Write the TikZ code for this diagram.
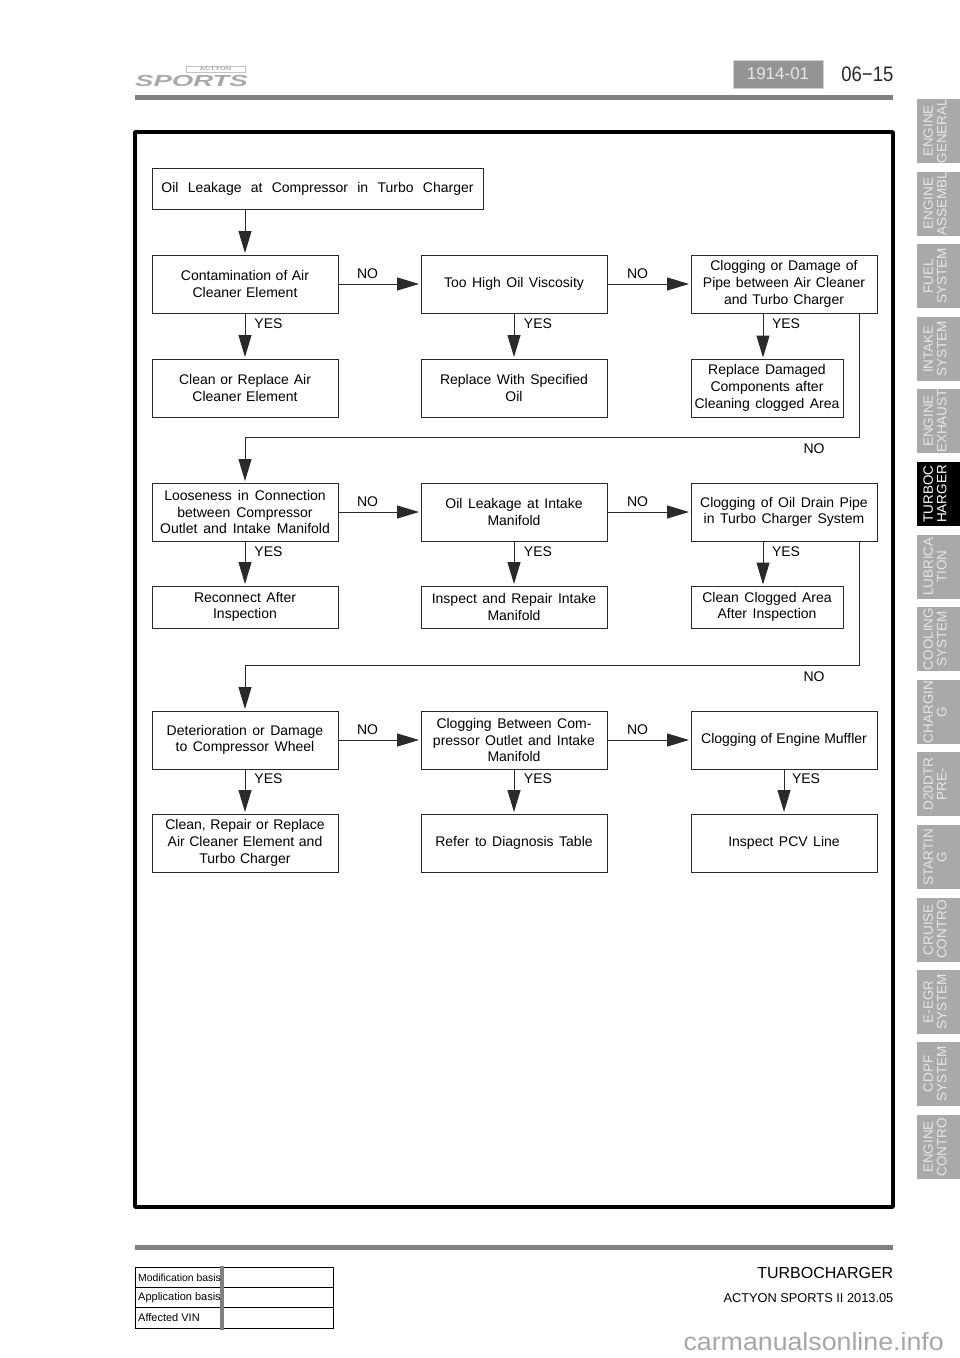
\documentclass[tikz,border=0pt]{standalone}
\usepackage{fontspec}
\setmainfont{Liberation Sans}
\usetikzlibrary{arrows.meta}

\definecolor{rulegray}{HTML}{808080}
\definecolor{tabgray}{HTML}{A9A9A9}
\definecolor{tabtext}{HTML}{E6E6E6}
\definecolor{linedark}{HTML}{2A2A2A}

\tikzset{
	wordgap/.style={execute at begin node={\spaceskip=#1}},
	chartbox/.style={draw=linedark, line width=0.95pt, inner sep=0pt, align=center, minimum width=186pt, minimum height=58pt, font=\fontsize{14}{16.7}\selectfont, wordgap=5.5pt},
	flow/.style={draw=linedark, line width=1pt, shorten >=1.5pt, -{Triangle[length=22pt,width=13pt,fill=linedark]}},
	answer/.style={inner sep=0pt, font=\fontsize{14}{16}\selectfont},
	tabbox/.style={fill=tabgray, inner sep=0pt, rotate=90, minimum width=64pt, minimum height=43pt, align=center, text=tabtext, text depth=7pt, font=\fontsize{13.5}{13.5}\selectfont},
	tablecell/.style={draw=black, line width=0.9pt, minimum width=198pt, minimum height=20.4pt, inner sep=0pt},
	tablelabel/.style={inner sep=0pt, anchor=west, font=\fontsize{11}{13}\selectfont}
}

\begin{document}
\begin{tikzpicture}[x=1pt, y=-1pt]
	\useasboundingbox (0,0) rectangle (960,1358);

	% header
	\node[inner sep=0pt, xscale=1.72, transform shape, text=tabgray, font=\bfseries\itshape\fontsize{16}{16}\selectfont] (logosports) at (191.5,80.5) {SPORTS};
	\node[draw=tabgray!70, line width=0.5pt, inner sep=0pt, xscale=1.5, transform shape, minimum width=39pt, minimum height=6pt, text=tabgray, font=\bfseries\fontsize{5}{5}\selectfont] (logoactyon) at (215.5,69) {ACTYON};
	\node[fill=black!42, draw=gray!35, line width=0.8pt, minimum width=90pt, minimum height=28pt, inner sep=0pt, text=tabtext, font=\fontsize{17}{17}\selectfont] (code) at (778,74) {1914-01};
	\node[inner sep=0pt, anchor=east, xscale=0.88, transform shape, text=black!85, font=\fontsize{21}{22}\selectfont] (page) at (893.5,74.5) {06−15};
	\fill[rulegray] (135,95) rectangle (893,100);

	% frame
	\draw[line width=3.4pt, line join=round] (135,132) rectangle (893,1207);

	% first block
	\node[chartbox, minimum width=331pt, minimum height=41pt, wordgap=9.3pt] (leak) at (317.5,188.5) {Oil Leakage at Compressor in Turbo Charger};
	\node[chartbox, wordgap=4.5pt] (aircleaner) at (245,284) {Contamination of Air\\Cleaner Element};
	\node[chartbox] (viscosity) at (514,284) {Too High Oil Viscosity};
	\node[chartbox, wordgap=5pt] (pipe) at (784,284) {Clogging or Damage of\\Pipe between Air Cleaner\\and Turbo Charger};
	\node[chartbox, wordgap=4.8pt] (cleanair) at (245,388) {Clean or Replace Air\\Cleaner Element};
	\node[chartbox] (replaceoil) at (514,388) {Replace With Specified\\Oil};
	\node[chartbox, minimum width=152pt] (replacepipe) at (767,388) {Replace Damaged\\Components after\\Cleaning clogged Area};

	% second block
	\node[chartbox, wordgap=6pt] (looseness) at (245,512) {Looseness in Connection\\between Compressor\\Outlet and Intake Manifold};
	\node[chartbox] (intakeleak) at (514,512) {Oil Leakage at Intake\\Manifold};
	\node[chartbox] (drainpipe) at (784,512) {Clogging of Oil Drain Pipe\\in Turbo Charger System};
	\node[chartbox, minimum height=42pt] (reconnect) at (245,607) {Reconnect After\\Inspection};
	\node[chartbox, minimum height=42pt] (repairintake) at (514,607) {Inspect and Repair Intake\\Manifold};
	\node[chartbox, minimum width=152pt, minimum height=42pt] (cleanarea) at (767,607) {Clean Clogged Area\\After Inspection};

	% third block
	\node[chartbox] (wheel) at (245,740) {Deterioration or Damage\\to Compressor Wheel};
	\node[chartbox] (outlet) at (514,740) {Clogging Between Com-\\pressor Outlet and Intake\\Manifold};
	\node[chartbox, wordgap=4.2pt] (muffler) at (784,740) {Clogging of Engine Muffler};
	\node[chartbox, wordgap=4.6pt] (repairwheel) at (245,843) {Clean, Repair or Replace\\Air Cleaner Element and\\Turbo Charger};
	\node[chartbox] (table) at (514,843) {Refer to Diagnosis Table};
	\node[chartbox] (pcv) at (784,843) {Inspect PCV Line};

	\coordinate (dropone) at (763,359);
	\coordinate (droptwo) at (763,586);
	\coordinate (turnone) at (859,437);
	\coordinate (turntwo) at (859,665);

	\draw[flow] (leak.south -| aircleaner.north) -- (aircleaner.north);
	\draw[flow] (aircleaner) -- (viscosity);
	\draw[flow] (viscosity) -- (pipe);
	\draw[flow] (aircleaner) -- (cleanair);
	\draw[flow] (viscosity) -- (replaceoil);
	\draw[flow] (pipe.south -| dropone) -- (dropone);
	\draw[flow] (pipe.south -| turnone) -- (turnone) -| (looseness.north);

	\draw[flow] (looseness) -- (intakeleak);
	\draw[flow] (intakeleak) -- (drainpipe);
	\draw[flow] (looseness) -- (reconnect);
	\draw[flow] (intakeleak) -- (repairintake);
	\draw[flow] (drainpipe.south -| droptwo) -- (droptwo);
	\draw[flow] (drainpipe.south -| turntwo) -- (turntwo) -| (wheel.north);

	\draw[flow] (wheel) -- (outlet);
	\draw[flow] (outlet) -- (muffler);
	\draw[flow] (wheel) -- (repairwheel);
	\draw[flow] (outlet) -- (table);
	\draw[flow] (muffler) -- (pcv);

	\node[answer] (noa) at (367.5,274) {NO};
	\node[answer] (nob) at (637.5,274) {NO};
	\node[answer] (noc) at (814,448.5) {NO};
	\node[answer] (nod) at (367.5,502) {NO};
	\node[answer] (noe) at (637.5,502) {NO};
	\node[answer] (nof) at (814,676.5) {NO};
	\node[answer] (nog) at (367.5,730) {NO};
	\node[answer] (noh) at (637.5,730) {NO};

	\node[answer] (yesa) at (268.5,323.5) {YES};
	\node[answer] (yesb) at (538,323.5) {YES};
	\node[answer] (yesc) at (786,323.5) {YES};
	\node[answer] (yesd) at (268.5,551.5) {YES};
	\node[answer] (yese) at (538,551.5) {YES};
	\node[answer] (yesf) at (786,551.5) {YES};
	\node[answer] (yesg) at (268.5,778.5) {YES};
	\node[answer] (yesh) at (538,778.5) {YES};
	\node[answer] (yesi) at (806,778.5) {YES};

	% side tabs
	\node[tabbox] (tabgeneral) at (938.5,131) {ENGINE\\GENERAL};
	\node[tabbox] (tabassembly) at (938.5,203.5) {ENGINE\\ASSEMBL};
	\node[tabbox] (tabfuel) at (938.5,276) {FUEL\\SYSTEM};
	\node[tabbox] (tabintake) at (938.5,349) {INTAKE\\SYSTEM};
	\node[tabbox] (tabexhaust) at (938.5,421) {ENGINE\\EXHAUST};
	\node[tabbox, fill=black, text=white] (tabturbo) at (938.5,494) {TURBOC\\HARGER};
	\node[tabbox] (tablube) at (938.5,566.5) {LUBRICA\\TION};
	\node[tabbox] (tabcooling) at (938.5,639) {COOLING\\SYSTEM};
	\node[tabbox] (tabcharging) at (938.5,712) {CHARGIN\\G};
	\node[tabbox] (tabdtr) at (938.5,784) {D20DTR\\PRE-};
	\node[tabbox] (tabstarting) at (938.5,857) {STARTIN\\G};
	\node[tabbox] (tabcruise) at (938.5,929.5) {CRUISE\\CONTRO};
	\node[tabbox] (tabegr) at (938.5,1002) {E-EGR\\SYSTEM};
	\node[tabbox] (tabcdpf) at (938.5,1074) {CDPF\\SYSTEM};
	\node[tabbox] (tabcontrol) at (938.5,1147) {ENGINE\\CONTRO};

	% footer
	\fill[rulegray] (135,1245) rectangle (893,1250);
	\node[tablecell] (rowa) at (234,1277.2) {};
	\node[tablecell] (rowb) at (234,1297.6) {};
	\node[tablecell] (rowc) at (234,1318) {};
	\draw[rulegray, line width=4pt] (222,1266) -- (222,1330);
	\node[tablelabel, font=\fontsize{10.4}{13}\selectfont] (labela) at (138,1277.5) {Modification basis};
	\node[tablelabel] (labelb) at (138,1298) {Application basis};
	\node[tablelabel] (labelc) at (138,1318) {Affected VIN};
	\node[inner sep=0pt, anchor=east, font=\fontsize{16}{18}\selectfont] (chapter) at (893.5,1272.5) {TURBOCHARGER};
	\node[inner sep=0pt, anchor=east, font=\fontsize{12.8}{14}\selectfont] (model) at (893.5,1298) {ACTYON SPORTS II 2013.05};
	\node[inner sep=0pt, anchor=base east, xscale=1.07, transform shape, text=black!35, font=\fontsize{25}{26}\selectfont] (mark) at (944,1350) {carmanualsonline.info};
\end{tikzpicture}
\end{document}
